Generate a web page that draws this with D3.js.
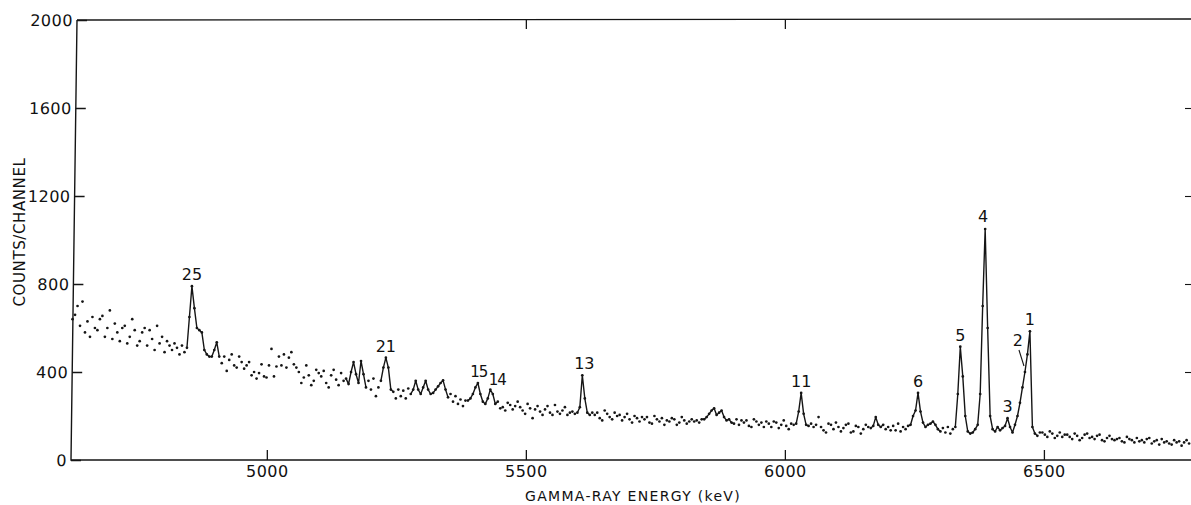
<!DOCTYPE html>
<html>
<head>
<meta charset="utf-8">
<script src="https://cdn.jsdelivr.net/npm/d3@7"></script>
<style>
  html, body { margin: 0; padding: 0; background: #fff; }
  svg { display: block; }
  text { font-family: "DejaVu Sans", sans-serif; fill: #111; }
</style>
</head>
<body>
<svg id="chart" width="1191" height="505"></svg>
<script>
// Gamma-ray spectrum: counts per channel vs. energy
const firstChannelKeV = 4625;
const keVPerChannel = 4.8;

const counts = [
  640, 660, 700, 610, 720, 580, 630, 560, 650, 600,
  590, 640, 655, 560, 600, 680, 550, 620, 580, 540,
  600, 610, 530, 560, 640, 590, 520, 540, 580, 600,
  520, 590, 550, 500, 610, 530, 560, 490, 540, 520,
  500, 530, 510, 480, 520, 490, 510, 650, 790, 690,
  600, 590, 580, 500, 480, 470, 470, 500, 535, 470,
  440, 470, 405, 455, 480, 430, 420, 470, 445, 415,
  430, 445, 385, 400, 370, 395, 435, 380, 375, 430,
  505, 380, 425, 470, 430, 480, 420, 465, 490, 435,
  420, 400, 350, 375, 430, 385, 340, 360, 410, 395,
  380, 405, 350, 330, 385, 410, 365, 340, 395, 360,
  370, 345, 400, 445, 390, 350, 450, 390, 330, 360,
  320, 370, 290, 330, 360, 420, 465, 420, 320, 310,
  280, 320, 290, 315, 280, 325, 300, 320, 360, 320,
  300, 330, 360, 320, 300, 305, 320, 335, 350, 362,
  320, 285, 300, 265, 290, 255, 275, 245, 270, 270,
  280, 300, 330, 350, 300, 265, 255, 280, 320, 300,
  255, 265, 235, 240, 225, 260, 250, 230, 245, 265,
  240, 225, 210, 255, 235, 190, 230, 245, 220, 205,
  230, 245, 215, 205, 250, 220, 210, 225, 240, 205,
  215, 220, 210, 215, 240, 385, 280, 215, 205, 215,
  205, 215, 190, 180, 225, 210, 195, 185, 215, 200,
  205, 180, 195, 210, 185, 170, 200, 190, 175, 195,
  185, 195, 170, 165, 200, 185, 175, 190, 160, 180,
  175, 190, 185, 160, 170, 195, 180, 165, 175, 185,
  175, 180, 170, 185, 185, 195, 210, 225, 235, 205,
  215, 225, 195, 180, 185, 170, 165, 185, 160, 180,
  170, 180, 155, 150, 185, 175, 160, 170, 150, 175,
  165, 150, 175, 170, 145, 160, 180, 155, 140, 165,
  160, 165, 220, 305, 210, 160, 155, 165, 150, 160,
  195, 150, 135, 125, 165, 160, 140, 170, 150, 130,
  145, 160, 165, 125, 130, 155, 150, 120, 140, 160,
  150, 145, 155, 195, 160, 150, 160, 140, 150, 135,
  155, 135, 165, 130, 150, 140, 155, 160, 200, 225,
  305, 220, 170, 150, 160, 165, 175, 160, 140, 130,
  145, 125, 150, 120, 140, 150, 300, 515, 380, 200,
  130, 120, 125, 140, 160, 300, 700, 1050, 600, 200,
  140, 130, 150, 135, 145, 155, 190, 150, 125, 160,
  200, 260, 330, 400, 480, 585, 150, 120, 110, 125,
  125, 115, 105, 130, 120, 100, 110, 125, 105, 115,
  115, 105, 95, 120, 110, 90, 100, 115, 120, 100,
  105, 95, 110, 115, 90, 85, 100, 110, 95, 90,
  95, 100, 85, 80, 105, 95, 90, 80, 100, 85,
  90, 80, 95, 100, 75, 85, 90, 70, 95, 80,
  85, 75, 70, 90, 80, 85, 65, 80, 90, 75
];

// Channel ranges (inclusive) joined by a line through the peaks
const fittedRanges = [
  [46, 59], [110, 118], [124, 129], [136, 151], [159, 171], [203, 208],
  [253, 266], [291, 296], [321, 326], [336, 349], [355, 388]
];

// Peak labels and the channel each one marks
const peakLabels   = ["25", "21", "15", "14", "13", "11", "6", "5", "4", "3", "2", "1"];
const peakChannels = [48, 126, 163, 168, 205, 293, 340, 357, 367, 376, 383, 385];

const xTicks = [5000, 5500, 6000, 6500];
const yTicks = [0, 400, 800, 1200, 1600, 2000];
const xTopTicks = [5500, 6000];
const yRightTicks = [400, 800, 1200, 1600];

const xTitle = "GAMMA-RAY ENERGY (keV)";
const yTitle = "COUNTS/CHANNEL";

const energyOf = i => firstChannelKeV + i * keVPerChannel;
const spectrum = counts.map((c, i) => ({ e: energyOf(i), c: c, i: i }));

const svg = d3.select("#chart");
const plotLeft = 71, plotRight = 1190, plotTop = 20, plotBottom = 460;

const x = d3.scaleLinear().domain([4622, 6782]).range([plotLeft, plotRight]);
const y = d3.scaleLinear().domain([0, 2000]).range([plotBottom, plotTop]);

const ink = "#151515";

// Frame: left axis leans slightly, top and bottom run to the edge
const lean = 6;
svg.append("path")
  .attr("d", `M${plotLeft + lean},${plotTop} L${plotLeft},${plotBottom} L1191,${plotBottom}`)
  .attr("fill", "none").attr("stroke", ink).attr("stroke-width", 1.4);
svg.append("path")
  .attr("d", `M${plotLeft + lean},${plotTop} L1191,${plotTop - 1}`)
  .attr("fill", "none").attr("stroke", ink).attr("stroke-width", 1.3);

// Y axis (skewed to follow the leaning left line)
const skewDeg = -Math.atan(lean / (plotBottom - plotTop)) * 180 / Math.PI;
const yAxisG = svg.append("g")
  .attr("transform", `translate(${plotLeft + lean * plotBottom / (plotBottom - plotTop)},0) skewX(${skewDeg})`)
  .call(d3.axisLeft(y).tickValues(yTicks).tickSizeInner(-10).tickSizeOuter(0).tickPadding(4)
        .tickFormat(d3.format("d")));
yAxisG.select(".domain").remove();
yAxisG.selectAll(".tick line").attr("stroke", ink).attr("stroke-width", 1.3);
yAxisG.selectAll(".tick text")
  .style("font-family", "DejaVu Sans").style("font-size", "16px")
  .style("letter-spacing", "0.5px").attr("fill", ink);

// X axis
const xAxisG = svg.append("g")
  .attr("transform", `translate(0,${plotBottom})`)
  .call(d3.axisBottom(x).tickValues(xTicks).tickSizeInner(-10).tickSizeOuter(0).tickPadding(6)
        .tickFormat(d3.format("d")));
xAxisG.select(".domain").remove();
xAxisG.selectAll(".tick line").attr("stroke", ink).attr("stroke-width", 1.3);
xAxisG.selectAll(".tick text")
  .style("font-family", "DejaVu Sans").style("font-size", "16px")
  .style("letter-spacing", "0.5px").attr("fill", ink);

// Top ticks
const xTopG = svg.append("g")
  .attr("transform", `translate(0,${plotTop - 1})`)
  .call(d3.axisTop(x).tickValues(xTopTicks).tickSizeInner(-10).tickSizeOuter(0).tickFormat(""));
xTopG.select(".domain").remove();
xTopG.selectAll(".tick line").attr("stroke", ink).attr("stroke-width", 1.3);

// Right-edge ticks
const yRightG = svg.append("g")
  .attr("transform", `translate(1191,0)`)
  .call(d3.axisRight(y).tickValues(yRightTicks).tickSizeInner(-6).tickSizeOuter(0).tickFormat(""));
yRightG.select(".domain").remove();
yRightG.selectAll(".tick line").attr("stroke", ink).attr("stroke-width", 1.1);

// Axis titles
svg.append("text")
  .attr("x", 633).attr("y", 501)
  .attr("text-anchor", "middle")
  .style("font-size", "14px").style("letter-spacing", "1.3px")
  .text(xTitle);

svg.append("text")
  .attr("transform", "translate(25,232) rotate(-90)")
  .attr("text-anchor", "middle")
  .style("font-size", "15px").style("letter-spacing", "0.6px")
  .text(yTitle);

// Lines through the fitted peak regions
const line = d3.line().x(d => x(d.e)).y(d => y(d.c));
svg.append("g").selectAll("path")
  .data(fittedRanges)
  .join("path")
  .attr("d", r => line(spectrum.slice(r[0], r[1] + 1)))
  .attr("fill", "none").attr("stroke", ink)
  .attr("stroke-width", 1.4).attr("stroke-linejoin", "round");

// Data points
svg.append("g").selectAll("circle")
  .data(spectrum)
  .join("circle")
  .attr("cx", d => x(d.e)).attr("cy", d => y(d.c))
  .attr("r", 1.35).attr("fill", ink);

// Peak labels
const labelNudge = { "14": [7, 1], "15": [1, 0], "13": [2, 0], "2": [-7, -20], "4": [-2, -1] };
peakLabels.forEach((lab, k) => {
  const d = spectrum[peakChannels[k]];
  const nd = labelNudge[lab] || [0, 0];
  const px = x(d.e) + nd[0];
  const py = y(d.c) - 6 + nd[1];
  svg.append("text")
    .attr("x", px).attr("y", py)
    .attr("text-anchor", "middle")
    .style("font-size", (lab === "15" || lab === "14") ? "15px" : "16px")
    .style("letter-spacing", (lab === "15" || lab === "14") ? "-1px" : "0px")
    .text(lab);
  if (lab === "2") {
    svg.append("line")
      .attr("x1", px + 1).attr("y1", py + 4)
      .attr("x2", x(d.e) - 1).attr("y2", y(d.c) - 6)
      .attr("stroke", ink).attr("stroke-width", 1.1);
  }
});
</script>
</body>
</html>
